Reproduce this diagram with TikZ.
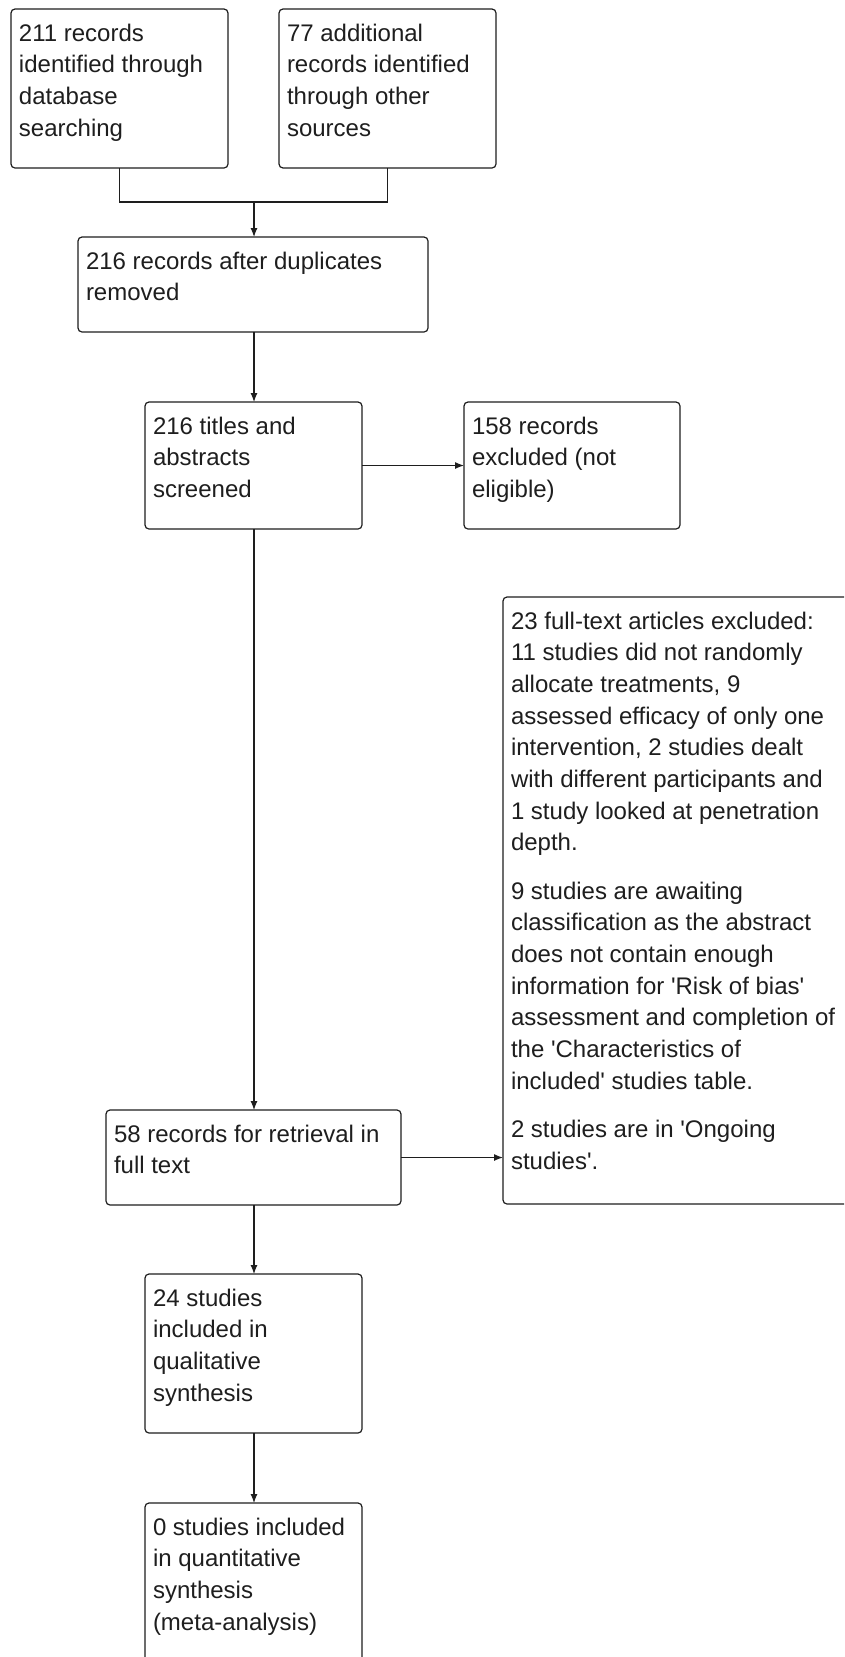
\documentclass[tikz,border=0pt]{standalone}
\usepackage{fontspec}
\setmainfont{Liberation Sans}[Ligatures=TeXOff]
\usetikzlibrary{arrows.meta}
\definecolor{ink}{HTML}{1E1E1E}
\newcommand{\bt}[3]{\parbox[t][#2pt][t]{#1pt}{\fontsize{24}{31.7}\selectfont\raggedright\leftskip=8pt\vspace*{14pt}\rule{0pt}{18pt}#3}}
\tikzset{
  flowbox/.style={draw=ink, line width=1.2pt, rounded corners=4pt, inner sep=0pt, outer sep=0pt, anchor=north west, text=ink},
  conn/.style={draw=ink, line width=1.2pt},
  arr/.style={conn, -{Latex[length=9pt,width=7pt]}}
}
\begin{document}
\begin{tikzpicture}[x=1pt,y=-1pt]
\clip (0,0) rectangle (844,1657);
\fill[white] (0,0) rectangle (844,1657);
\node[flowbox] (A) at (11,9) {\bt{217}{159}{211 records\\identified through\\database\\searching}};
\node[flowbox] (B) at (279,9) {\bt{217}{159}{77 additional\\records identified\\through other\\sources}};
\node[flowbox] (C) at (78,237) {\bt{350}{95}{216 records after duplicates\\removed}};
\node[flowbox] (D) at (145,402) {\bt{217}{127}{216 titles and\\abstracts\\screened}};
\node[flowbox] (E) at (464,402) {\bt{216}{127}{158 records\\excluded (not\\eligible)}};
\node[flowbox] (F) at (503,597) {\bt{400}{607}{23 full-text articles excluded:\\
11 studies did not randomly\\
allocate treatments, 9\\
assessed efficacy of only one\\
intervention, 2 studies dealt\\
with different participants and\\
1 study looked at penetration\\
depth.\\[16.5pt]
9 studies are awaiting\\
classification as the abstract\\
does not contain enough\\
information for 'Risk of bias'\\
assessment and completion of\\
the 'Characteristics of\\
included' studies table.\\[16.5pt]
2 studies are in 'Ongoing\\
studies'.}};
\node[flowbox] (G) at (106,1110) {\bt{295}{95}{58 records for retrieval in\\full text}};
\node[flowbox] (H) at (145,1274) {\bt{217}{159}{24 studies\\included in\\qualitative\\synthesis}};
\node[flowbox] (I) at (145,1503) {\bt{217}{200}{0 studies included\\in quantitative\\synthesis\\(meta-analysis)}};
\coordinate (j) at (254,202);
\draw[conn] (A.south) |- (j) -| (B.south);
\draw[arr] (j) -- (C.north -| j);
\draw[arr] (C.south -| j) -- (D.north -| j);
\draw[arr] (D.east) -- (E.west |- D.east);
\draw[arr] (D.south -| j) -- (G.north -| j);
\draw[arr] (G.east) -- (F.west |- G.east);
\draw[arr] (G.south -| j) -- (H.north -| j);
\draw[arr] (H.south -| j) -- (I.north -| j);
\end{tikzpicture}
\end{document}
